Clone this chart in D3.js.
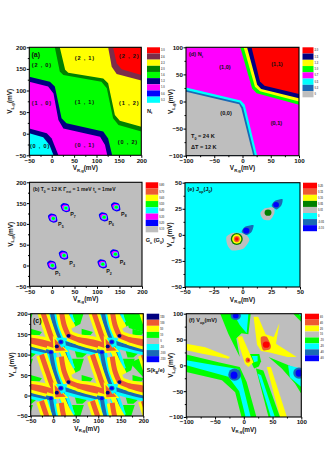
<!DOCTYPE html>
<html>
<head>
<meta charset="utf-8">
<script src="https://cdn.jsdelivr.net/npm/d3@7/dist/d3.min.js"></script>
<style>
html, body { margin: 0; padding: 0; background: #fff; }
svg { display: block; }
text { font-family: "Liberation Sans", Arial, sans-serif; font-weight: bold; fill: #111; }
</style>
</head>
<body>
<svg id="fig" width="327" height="468"></svg>
<script>
// colours used by the contour levels
const c = {
	red: '#ff0000', tomato: '#ee5a32', brown: '#7b2d4b', yellow: '#ffff00', dkgreen: '#008000',
	green: '#00ff00', navy: '#000080', magenta: '#ff00ff', blue: '#0000ff', cyan: '#00ffff',
	steel: '#1a69b5', gray: '#bebebe'
};

// panel (a) contour regions, mV
const aDkgreen = [[7,200],[18,144],[26,136],[111,120],[123,105],[137,36],[149,20],[200,5],[200,200]];
const aYellow = [[18,200],[30,148],[37,141],[115,128],[126,117],[141,43],[152,30],[200,16],[200,200]];
const aBrown = [[126,200],[134,155],[145,138],[200,123],[200,200]];
const aRed = [[137,200],[145,163],[156,149],[200,136],[200,200]];
const aNavy = [[-50,132],[-4,120],[7,109],[22,36],[33,24],[115,5],[126,-11],[135,-50],[-50,-50]];
const aMagenta = [[-50,120],[-8,109],[4,93],[15,32],[26,12],[108,-7],[119,-26],[124,-50],[-50,-50]];
const aNavyLow = [[-50,12],[-11,1],[0,-11],[15,-50],[-50,-50]];
const aCyan = [[-50,1],[-19,-8],[-5,-26],[4,-50],[-50,-50]];
const aLabels = ['(2 , 0)','(2 , 1)','(2 , 2)','(1 , 0)','(1 , 1)','(1 , 2)','(0 , 0)','(0 , 1)','(0 , 2)'];
const aLabelX = [-22,74,173,-22,74,173,-26,74,170];
const aLabelY = [159,175,180,72,74,70,-28,-26,-20];
const aLegend = ['3.0','2.6','2.3','2.0','1.6','1.3','1.0','0.6','0.3'];

// panel (d)
const dGreen = [[-4,100],[17,24],[25,15],[100,-6],[100,100]];
const dYellow = [[2,100],[22,27],[31,19],[100,0],[100,100]];
const dNavy = [[8,100],[26,31],[33,23],[100,6],[100,100]];
const dRed = [[16,100],[31,37],[39,29],[100,14],[100,100]];
const dCyan = [[-100,26],[-3,2],[4,-6],[26,-100],[-100,-100]];
const dSteel = [[-100,21],[-5,-2],[1,-11],[22,-100],[-100,-100]];
const dGray = [[-100,18],[-6,-5],[-2,-13],[19,-100],[-100,-100]];
const dLabels = ['(1,0)','(1,1)','(0,0)','(0,1)'];
const dLabelX = [-31,61,-29,60];
const dLabelY = [64,69,-22,-39];
const dLegend = ['2.0','1.5','1.3','1.0','0.7','0.5','0.3','0'];

// panel (b): the eight conductance peaks
const bPeakX = [0,112,26,140,2,115,30,142];
const bPeakY = [0,3,24,27,113,116,138,140];
const bNames = ['1','2','3','4','5','6','7','8'];
const bNameX = [11,125,43,155,18,130,45,158];
const bNameY = [-17,-14,5,9,100,103,123,125];
const bKite = [[-11,6],[-4,12],[7,8],[10,-6],[2,-10],[-7,-6]];
const bKiteMid = [[-8,4],[-3,8],[6,6],[7,-5],[1,-7],[-5,-4]];
const bRadii = [5.5, 3.5];
const bLegend = ['0.80','0.70','0.60','0.50','0.40','0.30','0.20','0.10'];

// panel (e)
const eGray1 = [[-14,-2],[-8,2],[2,1],[6,-5],[1,-13],[-9,-15],[-13,-10]];
const eSteel1 = [[-0.7,3],[2.2,7.8],[9.5,9.4],[8,3],[3.7,-0.2]];
const eGray2 = [[15.5,20.6],[19.6,25.4],[27,26.4],[27.7,20.6],[24,14.2],[18,14.9]];
const eSteel2 = [[25.4,28],[28.3,32.7],[34.7,34.3],[34,28.6],[29.8,24.4]];
const eLegend = ['0.20','0.15','0.10','0.05','0.01','0','-0.05','-0.10'];

// panel (f)
const fGreenTop = [[-41,100],[-27,61],[-7,16],[-13,52],[-4,62],[8,60],[12,100]];
const fCyanTop = [[-18,100],[8,100],[5,62],[-7,78]];
const fYellowMid = [[-11,55],[-3,57],[17,6],[8,-3],[2,3],[-7,35]];
const fYellowUp = [[17,94],[25,94],[38,60],[52,55],[62,82],[56,42],[92,16],[76,16],[45,25],[30,28],[23,40]];
const fOrange = [[30,55],[40,55],[47,39],[45,31],[34,29],[30,42]];
const fYellowLeft = [[-100,42],[-67,35],[-24,16],[-27,13],[-74,23],[-100,29]];
const fGreenV = [[-100,21],[-44,6],[-7,-3],[5,-32],[22,-100],[-4,-100],[-15,-52],[-38,-29],[-100,-13]];
const fCyanV = [[-100,10],[-50,0],[-10,-7],[-4,-28],[12,-100],[3,-100],[-8,-50],[-27,-22],[-100,0]];
const fGreenRing = [[10,22],[27,22],[30,8],[26,-2],[18,-6],[12,8]];
const fCyanRing = [[14,18],[24,18],[24,8],[18,6]];
const fGreenStrip = [[21,-6],[34,-10],[63,-100],[43,-100]];
const fCyanStrip = [[24,-16],[30,-19],[54,-100],[47,-100]];
const fYellowStrip = [[40,-3],[47,-3],[75,-100],[63,-100]];
const fGreenRight = [[43,16],[100,-10],[100,-55],[89,-35],[66,-6]];
const fCyanRight = [[77,0],[100,-6],[100,-42],[80,-23]];
const fGreenCorner = [[86,100],[100,100],[100,84]];
const fCyanCorner = [[95,100],[100,100],[100,94]];
// blobs: x, y, rx, ry in mV
const fSteelBlobs = [[-16,-18,11,12],[96,-15,10,11],[-14,96,9,8]];
const fBlueBlobs = [[-17,-19,6,7],[96,-15,6,7],[-14,96,5,5]];
const fOrangeBlob = [[7,10,4,5]];
const fRedBlobs = [[39,40,6,6],[8,10,1.8,2]];
const fLegend = ['60','40','20','10','-10','-20','-40','-60'];

// panel (c): one cell of the pattern, repeated with the 113 mV period
const period = [-113,0,113,226];
const cSteep1 = [[-26,100],[-12,55],[-2,25],[8,7]];
const cSteep2 = [[18,95],[24,60],[34,33]];
const cFlat1 = [[-60,24],[-25,18],[8,7]];
const cFlat2 = [[34,33],[60,22],[100,10]];
const cTail = [[20,-5],[30,-30],[45,-60]];
const cSteel1 = [[-5,106],[3,60],[17,18]];
const cSteel2 = [[17,18],[60,5],[108,-7]];
const cSteel3 = [[17,18],[25,-10],[38,-50]];
const cTriYellow = [[-1,34],[34,-6],[1,-9]];
const cTriOrange = [[3,26],[28,-3],[5,-4]];
const cKite = [[6,28],[26,28],[28,10],[18,4]];
const cWedge1 = [[42,90],[68,90],[60,62],[48,55]];
const cWedge2 = [[-50,50],[-25,42],[-30,35],[-50,35]];
const cWedge3 = [[48,-4],[78,-8],[65,-20],[52,-20]];
const cCorner = [[160,200],[168,165],[200,155],[200,200]];
const cCorner2 = [[170,80],[200,95],[200,45]];
const cNavyDots = [[8,7],[34,33]];
const cSteelDots = [[17,18],[-5,-7]];
const cLegend = ['150','100','50','10','0','-50','-100','-150'];

const ticks = {
	a: [-50,0,50,100,150,200],
	h: [-100,-50,0,50,100],
	e: [-50,-25,0,25,50]
};

const svg = d3.select('#fig');
const line = d3.line();
let clipId = 0;

// text with optional subscripts, parts are [string, isSub]
function rich(g, x, y, parts, size, anchor) {
	const t = g.append('text').attr('x', x).attr('y', y).attr('font-size', size).attr('text-anchor', anchor || 'start');
	let down = false;
	parts.forEach(function(p) {
		const s = t.append('tspan').text(p[0]);
		if (p[1]) { s.attr('font-size', size * 0.66).attr('dy', size * 0.3); down = true; }
		else if (down) { s.attr('dy', -size * 0.3); down = false; }
	});
	return t;
}

function makePanel(o) {
	const x = d3.scaleLinear().domain(o.xd).range([o.l, o.r]);
	const y = d3.scaleLinear().domain(o.yd).range([o.b, o.t]);
	const id = 'clip' + (clipId++);
	svg.append('clipPath').attr('id', id).append('rect')
		.attr('x', o.l).attr('y', o.t).attr('width', o.r - o.l).attr('height', o.b - o.t);
	const plot = svg.append('g').attr('clip-path', 'url(#' + id + ')');
	plot.append('rect').attr('x', o.l).attr('y', o.t).attr('width', o.r - o.l).attr('height', o.b - o.t).attr('fill', o.base);

	const p = {
		x: x, y: y, plot: plot,
		poly: function(pts, col, dx, dy) {
			plot.append('path')
				.attr('d', line(pts.map(function(q) { return [x(q[0] + (dx || 0)), y(q[1] + (dy || 0))]; })) + 'Z')
				.attr('fill', col);
		},
		smooth: function(pts, col, dx, dy) {
			const g = d3.line().curve(d3.curveCardinalClosed.tension(0.3));
			plot.append('path')
				.attr('d', g(pts.map(function(q) { return [x(q[0] + (dx || 0)), y(q[1] + (dy || 0))]; })))
				.attr('fill', col);
		},
		stripe: function(pts, col, w, dx, dy) {
			const g = d3.line().curve(d3.curveCatmullRom);
			plot.append('path')
				.attr('d', g(pts.map(function(q) { return [x(q[0] + dx), y(q[1] + dy)]; })))
				.attr('fill', 'none').attr('stroke', col).attr('stroke-width', w);
		},
		blob: function(b, col) {
			plot.append('ellipse')
				.attr('cx', x(b[0])).attr('cy', y(b[1]))
				.attr('rx', Math.abs(x(b[2]) - x(0))).attr('ry', Math.abs(y(b[3]) - y(0)))
				.attr('fill', col);
		}
	};
	o.draw(p);

	// frame and axes go on top of the contours
	svg.append('rect').attr('x', o.l).attr('y', o.t).attr('width', o.r - o.l).attr('height', o.b - o.t)
		.attr('fill', 'none').attr('stroke', '#000').attr('stroke-width', 1.1);

	const minor = function(t) { return d3.range(t.length - 1).map(function(i) { return (t[i] + t[i + 1]) / 2; }); };
	[[d3.axisBottom(x).tickValues(o.xt), 2.5],[d3.axisBottom(x).tickValues(minor(o.xt)).tickFormat(''), 1.5]].forEach(function(a) {
		const g = svg.append('g').attr('transform', 'translate(0,' + o.b + ')').call(a[0].tickSize(a[1]).tickPadding(0.5));
		g.select('.domain').remove();
		g.selectAll('text').attr('font-size', 6.2);
	});
	[[d3.axisLeft(y).tickValues(o.yt), 2.5],[d3.axisLeft(y).tickValues(minor(o.yt)).tickFormat(''), 1.5]].forEach(function(a) {
		const g = svg.append('g').attr('transform', 'translate(' + o.l + ',0)').call(a[0].tickSize(a[1]).tickPadding(0.5));
		g.select('.domain').remove();
		g.selectAll('text').attr('font-size', 6.2);
	});

	rich(svg, (o.l + o.r) / 2, o.b + 14.5, [['V'],['R,g',1],['(mV)']], 6.4, 'middle');
	const yl = rich(svg, 0, 0, [['V'],['L,g',1],['(mV)']], 6.4, 'middle');
	yl.attr('transform', 'translate(' + (o.l - o.ylab) + ',' + (o.t + o.b) / 2 + ') rotate(-90)');

	// legend
	const n = o.legend.colors.length;
	const lg = d3.scaleBand().domain(d3.range(n)).range([o.t, o.t + o.legend.h]);
	svg.append('g').selectAll('rect').data(o.legend.colors).enter().append('rect')
		.attr('x', o.legend.x).attr('y', function(d, i) { return lg(i); })
		.attr('width', o.legend.w).attr('height', lg.bandwidth()).attr('fill', function(d) { return c[d]; });
	svg.append('g').selectAll('text').data(o.legend.labels).enter().append('text')
		.attr('x', o.legend.x + o.legend.w + 1).attr('y', function(d, i) { return lg(i) + lg.bandwidth() / 2 + 1; })
		.attr('font-size', 2.6).style('fill', '#555').text(function(d) { return d; });
	if (o.legend.title) rich(svg, o.legend.x, o.t + o.legend.h + 10, o.legend.title, 5.6);
	return p;
}

function annotate(p, labels, xs, ys, size, spacing) {
	svg.append('g').selectAll('text').data(labels).enter().append('text')
		.attr('x', function(d, i) { return p.x(xs[i]); })
		.attr('y', function(d, i) { return p.y(ys[i]) + 2; })
		.attr('text-anchor', 'middle').attr('font-size', size)
		.attr('letter-spacing', spacing || 0)
		.text(function(d) { return d; });
}

// (a)
const pa = makePanel({
	l: 29.3, r: 141.3, t: 47.3, b: 155.3, xd: [-50,200], yd: [-50,200], xt: ticks.a, yt: ticks.a, base: c.green, ylab: 17,
	legend: { x: 147, w: 13, h: 55.5, colors: ['red','brown','yellow','dkgreen','green','navy','magenta','blue','cyan'], labels: aLegend, title: [['N'],['t',1]] },
	draw: function(p) {
		p.poly(aDkgreen, c.dkgreen); p.poly(aYellow, c.yellow); p.poly(aBrown, c.brown); p.poly(aRed, c.red);
		p.poly(aNavy, c.navy); p.poly(aMagenta, c.magenta); p.poly(aNavyLow, c.navy); p.poly(aCyan, c.cyan);
	}
});
annotate(pa, aLabels, aLabelX, aLabelY, 5.6, 0.8);
rich(svg, 31.5, 57, [['(a)']], 7);

// (d)
const pd = makePanel({
	l: 186, r: 299, t: 47.3, b: 155.7, xd: [-100,100], yd: [-100,100], xt: ticks.h, yt: ticks.h, base: c.magenta, ylab: 13,
	legend: { x: 302.5, w: 11, h: 50, colors: ['red','navy','yellow','green','magenta','cyan','steel','gray'], labels: dLegend },
	draw: function(p) {
		p.poly(dGreen, c.green); p.poly(dYellow, c.yellow); p.poly(dNavy, c.navy); p.poly(dRed, c.red);
		p.poly(dCyan, c.cyan); p.poly(dSteel, c.steel); p.poly(dGray, c.gray);
	}
});
annotate(pd, dLabels, dLabelX, dLabelY, 5.6);
rich(svg, 189, 56, [['(d)  N'],['t',1]], 5.6);
rich(svg, 191, 138, [['T'],['0',1],[' = 24 K']], 5.6);
rich(svg, 191, 149, [['\u0394T = 12 K']], 5.6);

// (b)
const pb = makePanel({
	l: 29.5, r: 142, t: 182.3, b: 286.3, xd: [-50,200], yd: [-50,200], xt: ticks.a, yt: ticks.a, base: c.gray, ylab: 17,
	legend: { x: 145.7, w: 12.5, h: 50, colors: ['red','tomato','yellow','green','cyan','magenta','blue','gray'], labels: bLegend, title: [['G'],['c',1],[' (G'],['0',1],[')']] },
	draw: function(p) {
		bPeakX.forEach(function(px, i) {
			const py = bPeakY[i];
			p.smooth(bKite, c.blue, px, py);
			p.smooth(bKiteMid, c.magenta, px, py);
			p.blob([px + 1, py, bRadii[0], bRadii[0]], c.cyan);
			p.blob([px + 1, py, bRadii[1], bRadii[1]], c.green);
		});
	}
});
rich(svg, 33, 191, [['(b) T'],['0',1],[' = 12 K   \u0393'],['ext',1],[' = 1 meV   t'],['c',1],[' = 1meV']], 5);
bNames.forEach(function(n, i) {
	rich(svg, pb.x(bNameX[i]) - 2, pb.y(bNameY[i]) + 2, [['P'],[n,1]], 5.4);
});

// (e)
const pe = makePanel({
	l: 185, r: 300, t: 182.7, b: 287, xd: [-50,50], yd: [-50,50], xt: ticks.e, yt: ticks.e, base: c.cyan, ylab: 13,
	legend: { x: 303, w: 14, h: 48.5, colors: ['red','tomato','yellow','dkgreen','gray','cyan','steel','blue'], labels: eLegend },
	draw: function(p) {
		p.smooth(eGray1, c.gray);
		p.blob([-5,-4,5.2,5.8], c.dkgreen); p.blob([-5,-4,4,4.5], c.yellow);
		p.blob([-5,-4,2.6,3], c.tomato); p.blob([-5,-4,1.5,1.7], c.red);
		p.smooth(eSteel1, c.steel); p.blob([3.3,4,2.7,2.7], c.blue);
		p.smooth(eGray2, c.gray); p.blob([22.2,21.2,3,3], c.dkgreen);
		p.smooth(eSteel2, c.steel); p.blob([29.2,28.9,2.5,2.5], c.blue);
	}
});
rich(svg, 187.5, 191, [['(e)  J'],['op',1],['(J'],['0',1],[')']], 5.6);

// (c)
const pc = makePanel({
	l: 30.7, r: 143.3, t: 313.7, b: 416, xd: [-50,200], yd: [-50,200], xt: ticks.a, yt: ticks.a, base: c.gray, ylab: 17,
	legend: { x: 146.7, w: 12.5, h: 48.5, colors: ['navy','tomato','yellow','green','gray','cyan','steel','blue'], labels: cLegend, title: [['S(k'],['B',1],['/e)']] },
	draw: function(p) {
		const steel = [cSteel1, cSteel2, cSteel3];
		const warm = [cSteep1, cSteep2, cFlat1, cFlat2];
		function each(fn) {
			period.forEach(function(dx) { period.forEach(function(dy) { fn(dx, dy); }); });
		}
		each(function(dx, dy) {
			p.poly(cWedge1, c.green, dx, dy); p.poly(cWedge2, c.green, dx, dy); p.poly(cWedge3, c.green, dx, dy);
		});
		p.poly(cCorner, c.green); p.poly(cCorner2, c.green);
		each(function(dx, dy) { steel.forEach(function(s) { p.stripe(s, c.cyan, 10, dx, dy); }); });
		each(function(dx, dy) { steel.forEach(function(s) { p.stripe(s, c.steel, 4, dx, dy); }); });
		each(function(dx, dy) { p.stripe(cTail, c.yellow, 5, dx, dy); });
		each(function(dx, dy) { warm.forEach(function(s) { p.stripe(s, c.yellow, 11, dx, dy); }); });
		each(function(dx, dy) { warm.forEach(function(s) { p.stripe(s, c.tomato, 5, dx, dy); }); });
		each(function(dx, dy) {
			p.poly(cTriYellow, c.yellow, dx, dy); p.poly(cTriOrange, c.tomato, dx, dy); p.poly(cKite, c.cyan, dx, dy);
		});
		each(function(dx, dy) {
			cSteelDots.forEach(function(d) { p.blob([d[0] + dx, d[1] + dy, 6, 6], c.steel); p.blob([d[0] + dx, d[1] + dy, 4, 4], c.blue); });
			cNavyDots.forEach(function(d) { p.blob([d[0] + dx, d[1] + dy, 4.5, 4.5], c.navy); });
		});
	}
});
rich(svg, 33, 323, [['(c)']], 7);

// (f)
const pf = makePanel({
	l: 186.3, r: 301.3, t: 313.7, b: 417, xd: [-100,100], yd: [-100,100], xt: ticks.h, yt: ticks.h, base: c.gray, ylab: 13,
	legend: { x: 305, w: 14, h: 47.5, colors: ['red','tomato','yellow','gray','green','cyan','steel','blue'], labels: fLegend },
	draw: function(p) {
		p.poly(fGreenTop, c.green); p.poly(fCyanTop, c.cyan);
		p.poly(fYellowLeft, c.yellow);
		p.poly(fGreenV, c.green); p.poly(fCyanV, c.cyan);
		p.poly(fYellowStrip, c.yellow);
		p.poly(fGreenStrip, c.green); p.poly(fCyanStrip, c.cyan);
		p.poly(fGreenRing, c.green); p.poly(fCyanRing, c.cyan);
		p.poly(fGreenRight, c.green); p.poly(fCyanRight, c.cyan);
		p.poly(fGreenCorner, c.green); p.poly(fCyanCorner, c.cyan);
		p.poly(fYellowMid, c.yellow); p.poly(fYellowUp, c.yellow); p.smooth(fOrange, c.tomato);
		fOrangeBlob.forEach(function(b) { p.blob(b, c.tomato); });
		fSteelBlobs.forEach(function(b) { p.blob(b, c.steel); });
		fBlueBlobs.forEach(function(b) { p.blob(b, c.blue); });
		fRedBlobs.forEach(function(b) { p.blob(b, c.red); });
	}
});
rich(svg, 189, 322, [['(f)  V'],['op',1],['(mV)']], 5.6);
</script>
</body>
</html>
